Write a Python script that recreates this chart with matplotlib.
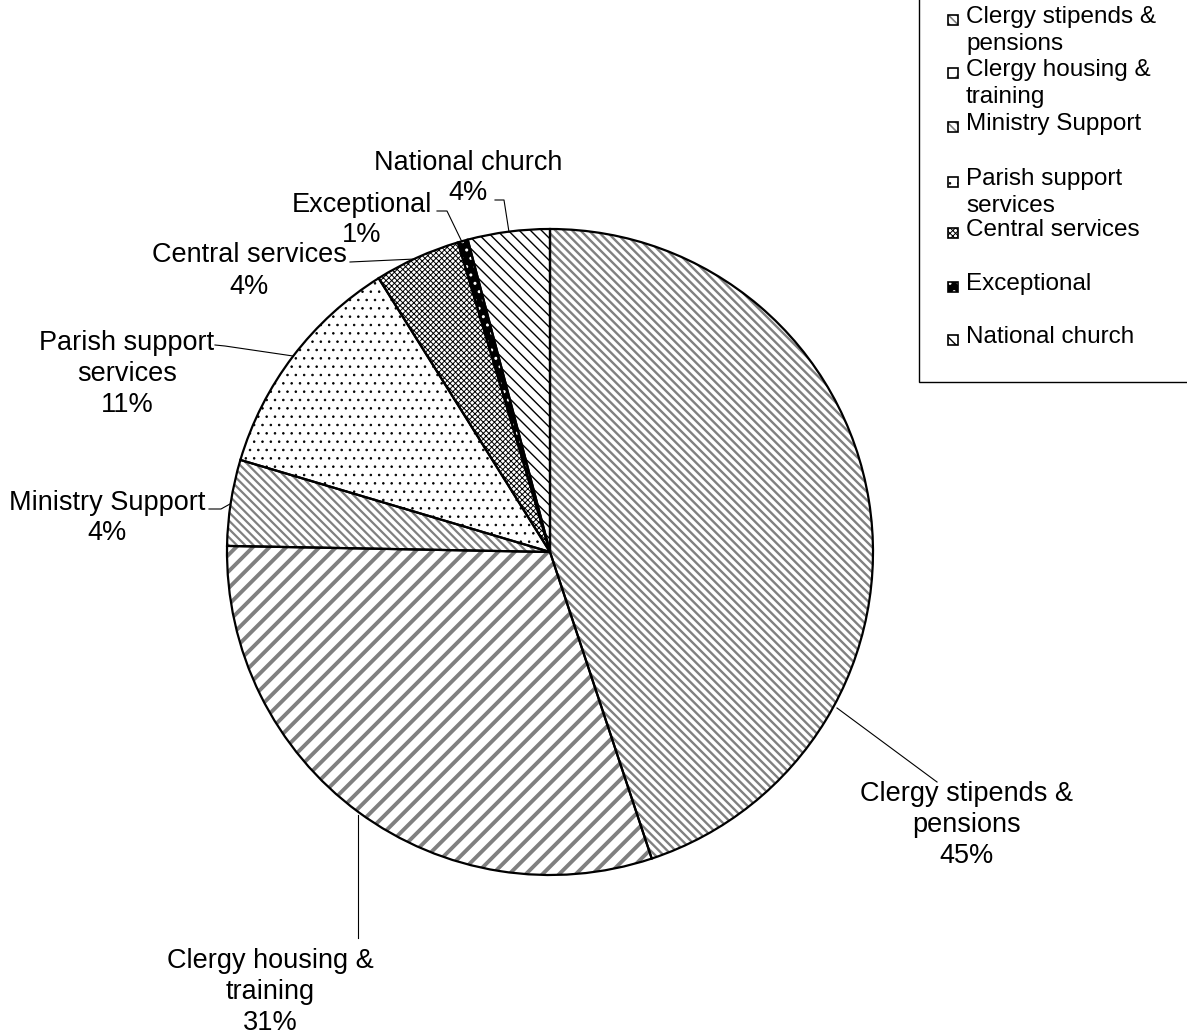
import matplotlib
matplotlib.use("Agg")
import matplotlib.pyplot as plt
from matplotlib.patches import Rectangle

plt.rcParams['font.family'] = ['Liberation Sans', 'DejaVu Sans']

W, H = 1187, 1034

categories = ["Clergy stipends &\npensions", "Clergy housing &\ntraining", "Ministry Support",
              "Parish support\nservices", "Central services", "Exceptional", "National church"]
legend_names = categories
values = [44.9, 30.4, 4.3, 11.5, 4.3, 0.5, 4.1]
pct_labels = ["45%", "31%", "4%", "11%", "4%", "1%", "4%"]

# styling per slice: hatch, hatch colour, face colour, hatch linewidth
hatches = ['\\\\\\\\', '//', '\\\\\\\\', '..', 'xxxxxx', '..', '\\\\\\']
hatch_colors = ['#808080', '#808080', '#808080', 'black', 'black', 'white', 'black']
face_colors = ['white', 'white', 'white', 'white', 'white', 'black', 'white']
hatch_lws = [1.7, 2.8, 1.6, 0.6, 0.7, 1.0, 1.0]

# label centres and leader lines in pixel coordinates (y from top)
label_pos = [(967, 825), (270, 992), (107, 518), (127, 374), (249, 271), (362, 220), (468, 178)]
leaders = [
    [(837, 708), (937, 782)],
    [(358, 815), (358, 938)],
    [(209, 509), (221, 509), (230, 504)],
    [(215, 345), (225, 346), (293, 356)],
    [(350, 262), (415, 259)],
    [(437, 211), (447, 211), (462, 242)],
    [(495, 200), (504, 200), (509, 232)],
]
line_step = 31
legend_y = [20, 73, 127, 182, 233, 287, 340]


def P(x, y):
    return x, H - y


fig = plt.figure(figsize=(W / 100, H / 100), dpi=100)
ax = fig.add_axes([0, 0, 1, 1])

cx, cy = P(550, 552)
R = 323

wedges, _ = ax.pie(values, startangle=90, counterclock=False, center=(cx, cy), radius=R,
                   wedgeprops=dict(linewidth=0))
for w, h, hc, fc, lw in zip(wedges, hatches, hatch_colors, face_colors, hatch_lws):
    w.set_facecolor(fc)
    w.set_edgecolor(hc)
    w.set_hatch(h)
    if hasattr(w, 'set_hatch_linewidth'):
        w.set_hatch_linewidth(lw)

ax.pie(values, startangle=90, counterclock=False, center=(cx, cy), radius=R,
       wedgeprops=dict(facecolor='none', edgecolor='black', linewidth=1.6))

ax.set_xlim(0, W)
ax.set_ylim(0, H)
ax.set_aspect('equal')
ax.axis('off')

for name, pct, (lx, ly), pts in zip(categories, pct_labels, label_pos, leaders):
    lines = name.split("\n") + [pct]
    y0 = ly - line_step * (len(lines) - 1) / 2
    for i, s in enumerate(lines):
        x, y = P(lx, y0 + i * line_step)
        ax.text(x, y, s, ha='center', va='center', fontsize=19.5)
    xs = [p[0] for p in pts]
    ys = [H - p[1] for p in pts]
    ax.plot(xs, ys, color='black', linewidth=0.8)

# legend box
bx0, by0 = P(919, 382)
ax.add_patch(Rectangle((bx0, by0), 290, 400, facecolor='white', edgecolor='black',
                       linewidth=1.0, clip_on=False))
for name, yy, h, hc, fc, lw in zip(legend_names, legend_y, hatches, hatch_colors, face_colors, hatch_lws):
    sx, sy = P(948, yy + 5)
    sq = Rectangle((sx, sy), 10, 10, facecolor=fc, edgecolor=hc, hatch=h, linewidth=0)
    if hasattr(sq, 'set_hatch_linewidth'):
        sq.set_hatch_linewidth(min(lw, 1.2))
    ax.add_patch(sq)
    ax.add_patch(Rectangle((sx, sy), 10, 10, facecolor='none', edgecolor='black', linewidth=1.2))
    tx, ty = P(966, yy - 14)
    ax.text(tx, ty, name, ha='left', va='top', fontsize=17.5, linespacing=1.3)

fig.savefig("out.png", dpi=100)
